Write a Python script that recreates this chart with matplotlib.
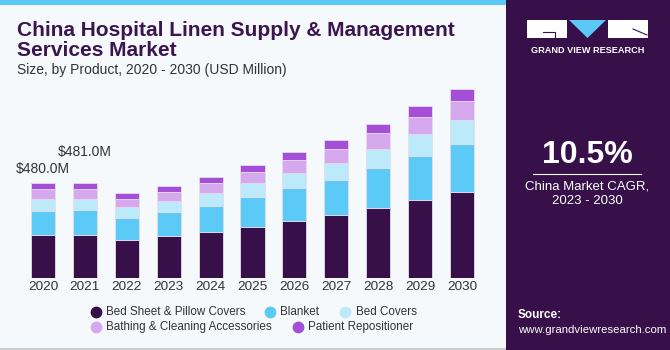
import matplotlib
matplotlib.use("Agg")
import matplotlib.pyplot as plt
import numpy as np
from matplotlib.patches import Rectangle, Polygon
from matplotlib.lines import Line2D
from matplotlib.colors import LinearSegmentedColormap

years = ["2020", "2021", "2022", "2023", "2024", "2025", "2026", "2027", "2028", "2029", "2030"]
bed_sheet = [219, 219, 195, 214, 235, 261, 291, 320, 357, 397, 436]
blanket = [123, 124, 111, 120, 131, 148, 164, 177, 199, 221, 243]
bed_covers = [59, 59, 52, 58, 66, 71, 79, 87, 99, 110, 121]
bathing = [50, 50, 44, 46, 52, 57, 64, 71, 79, 87, 96]
patient = [29, 29, 27, 28, 30, 37, 40, 42, 47, 54, 59]

series_names = ["Bed Sheet & Pillow Covers", "Blanket", "Bed Covers",
                "Bathing & Cleaning Accessories", "Patient Repositioner"]
colors = ["#371049", "#5ccaf6", "#bdeafb", "#d6a9ee", "#a54fd8"]
labels_text = {0: "$480.0M", 1: "$481.0M"}

W, H = 670, 350
fig = plt.figure(figsize=(W / 100, H / 100), dpi=100)
fig.patch.set_facecolor("#f5f9fc")
font = "Liberation Sans"

def fx(px):
    return px / W

def fy(py):
    return 1 - py / H

# top blue stripe
fig.add_artist(Rectangle((0, fy(5)), fx(506), 5 / H, transform=fig.transFigure,
                         facecolor="#5bc8f5", edgecolor="none"))
# bottom gray line
fig.add_artist(Rectangle((0, 0), fx(506), 2 / H, transform=fig.transFigure,
                         facecolor="#cccccc", edgecolor="none"))

# main axes
ax = fig.add_axes([fx(9.5), fy(278.3), fx(486), 197.9 / H])
ax.set_facecolor("none")
x = np.arange(len(years))
bottom = np.zeros(len(years))
data = [bed_sheet, blanket, bed_covers, bathing, patient]
for vals, c, name in zip(data, colors, series_names):
    ax.bar(x, vals, width=0.575, bottom=bottom, color=c, edgecolor="#e4dcea",
           linewidth=0.6, label=name, zorder=2)
    bottom += np.array(vals)
totals = bottom
ax.set_xlim(-0.8, 10.8)
ax.set_ylim(0, 1000)
ax.set_yticks([])
ax.set_xticks(x)
ax.set_xticklabels(years, fontsize=9.7, color="#333333", fontfamily=font)
ax.tick_params(axis="x", length=0, pad=2)
for s in ax.spines.values():
    s.set_visible(False)

offsets = {0: 5, 1: 17}
for i, txt in labels_text.items():
    ax.annotate(txt, (x[i], totals[i]), xytext=(0, offsets[i]), textcoords="offset points",
                ha="center", va="bottom", fontsize=10, color="#333333", fontfamily=font)

# titles
fig.text(fx(17), fy(36), "China Hospital Linen Supply & Management", fontsize=15,
         fontweight="bold", color="#3b154f", fontfamily=font, va="baseline")
fig.text(fx(17), fy(56), "Services Market", fontsize=15,
         fontweight="bold", color="#3b154f", fontfamily=font, va="baseline")
fig.text(fx(17), fy(74), "Size, by Product, 2020 - 2030 (USD Million)", fontsize=10,
         color="#333333", fontfamily=font, va="baseline")

# legend (manual)
leg_items = [
    (96, 312, 0), (269.5, 312, 1), (345, 312, 2),
    (96, 327, 3), (297.5, 327, 4),
]
for px, py, k in leg_items:
    fig.add_artist(Line2D([fx(px)], [fy(py)], marker="o", markersize=7.5, linestyle="none",
                          color=colors[k], transform=fig.transFigure))
    fig.text(fx(px + 10.5), fy(py), series_names[k], fontsize=8.4, color="#333333",
             fontfamily=font, va="center")

# right panel
panel_col = "#371049"
fig.add_artist(Rectangle((fx(506), 0), fx(164), 1, transform=fig.transFigure,
                         facecolor=panel_col, edgecolor="none"))
# gradient at bottom of panel
gax = fig.add_axes([fx(506), 0, fx(164), 95 / H])
grad = np.linspace(0, 1, 100)[:, None] ** 1.3
cmap = LinearSegmentedColormap.from_list("g", [panel_col, "#463a78", "#3f86c0"])
gax.imshow(grad, aspect="auto", cmap=cmap, extent=[0, 1, 1, 0], origin="upper")
for k in range(-12, 24):
    gax.plot([0.5 + k * 0.025, 0.5 + k * 0.1], [0.35, 1.0], color="white", alpha=0.15, lw=0.6)
for yy in np.geomspace(0.35, 1.0, 10):
    gax.plot([0, 1], [yy, yy], color="white", alpha=0.15, lw=0.6)
gax.set_xlim(0, 1)
gax.set_ylim(1, 0)
gax.axis("off")

# logo
fig.add_artist(Rectangle((fx(527), fy(38)), fx(40), 18 / H, transform=fig.transFigure,
                         facecolor="white", edgecolor="none"))
fig.add_artist(Line2D([fx(543), fx(555), fx(555)], [fy(32), fy(32), fy(38)],
                      color=panel_col, lw=0.8, transform=fig.transFigure))
fig.add_artist(Polygon([(fx(569), fy(20)), (fx(606), fy(20)), (fx(587.5), fy(38))],
                       closed=True, transform=fig.transFigure, facecolor="#5bc8f5",
                       edgecolor="none"))
fig.add_artist(Rectangle((fx(608), fy(38)), fx(40), 18 / H, transform=fig.transFigure,
                         facecolor="white", edgecolor="none"))
fig.add_artist(Line2D([fx(633), fx(647)], [fy(29), fy(35)],
                      color=panel_col, lw=0.8, transform=fig.transFigure))
fig.text(fx(587.5), fy(50.5), "GRAND VIEW RESEARCH", fontsize=6.6, fontweight="bold",
         color="white", fontfamily=font, ha="center", va="center")

fig.text(fx(587.5), fy(155), "10.5%", fontsize=23, fontweight="bold", color="white",
         fontfamily=font, ha="center", va="center")
fig.add_artist(Line2D([fx(533), fx(641)], [fy(173.5), fy(173.5)], color="white", lw=0.8,
                      transform=fig.transFigure))
fig.text(fx(587.5), fy(186), "China Market CAGR,", fontsize=9.5, color="white",
         fontfamily=font, ha="center", va="center")
fig.text(fx(587.5), fy(201.5), "2023 - 2030", fontsize=9.5, color="white",
         fontfamily=font, ha="center", va="center")
fig.text(fx(518), fy(315.5), "Source:", fontsize=8.5, fontweight="bold", color="white",
         fontfamily=font, ha="left", va="center")
fig.text(fx(518), fy(330), "www.grandviewresearch.com", fontsize=8.2, color="white",
         fontfamily=font, ha="left", va="center")

fig.savefig("out.png", dpi=100, facecolor=fig.get_facecolor())
